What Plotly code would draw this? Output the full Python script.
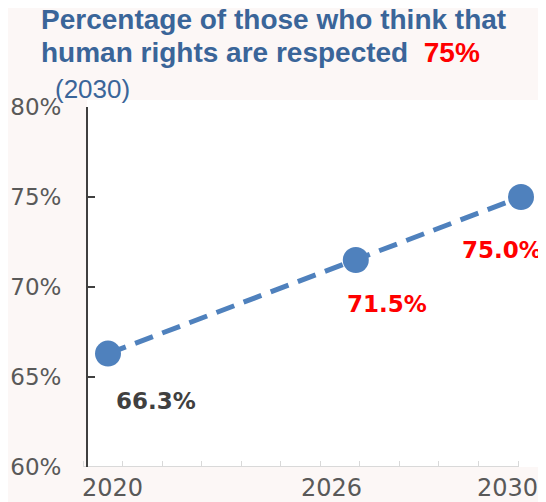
import plotly.graph_objects as go

# ---- data ----
years = [2020, 2026, 2030]
values = [66.3, 71.5, 75.0]
value_labels = ["66.3%", "71.5%", "75.0%"]
label_colors = ["#404040", "#FF0000", "#FF0000"]
x_tick_labels = ["2020", "2026", "2030"]
y_ticks = [60, 65, 70, 75, 80]
y_tick_labels = ["60%", "65%", "70%", "75%", "80%"]
title_line1 = "Percentage of those who think that"
title_line2 = "human rights are respected"
title_target = "75%"
title_year = "(2030)"

# ---- layout geometry (screen pixels; page body has an 8px margin) ----
OFF = 8
W, H = 546 - OFF, 502 - OFF
L, R, T, B = 83, 543, 107, 467  # plot area in screen pixels
PX_PER_YEAR = 41.3
X0_PX_YEAR = 108  # screen pixel of first year
x_min = years[0] - (X0_PX_YEAR - L) / PX_PER_YEAR
x_max = years[0] + (R - X0_PX_YEAR) / PX_PER_YEAR
x_axis_end = years[0] + (518 - X0_PX_YEAR) / PX_PER_YEAR


def fx(px):
    return (px - L) / (R - L)


def fy(py):
    return (B - py) / (B - T)


BLUE = "#4F81BD"
TITLE_BLUE = "#3A6599"
PAPER = "#FCF7F6"

fig = go.Figure()
fig.add_trace(go.Scatter(
    x=years, y=values, mode="lines+markers",
    line=dict(color=BLUE, width=5, dash="19px,10px"),
    marker=dict(size=26, color=BLUE),
    cliponaxis=False, hoverinfo="skip", showlegend=False,
))

shapes = [
    dict(type="rect", xref="paper", yref="paper", x0=fx(87), x1=1, y0=0, y1=fy(100),
         fillcolor="white", line=dict(width=0), layer="below"),
    dict(type="line", xref="x", yref="y", x0=x_min, x1=x_axis_end, y0=y_ticks[0], y1=y_ticks[0],
         line=dict(color="#D9D9D9", width=2), layer="below"),
]

annotations = []
xshifts = [48, 31, -19]
yshifts = [-47, -44, -53]
for xv, yv, t, c, dx, dy in zip(years, values, value_labels, label_colors, xshifts, yshifts):
    annotations.append(dict(x=xv, y=yv, xref="x", yref="y", text=f"<b>{t}</b>", showarrow=False,
                            xshift=dx, yshift=dy,
                            font=dict(family="DejaVu Sans", size=23, color=c)))

lab_shifts = [4, -24, -14]
for xv, t, dx in zip(years, x_tick_labels, lab_shifts):
    annotations.append(dict(x=xv, y=fy(488), xref="x", yref="paper", text=t, showarrow=False,
                            xshift=dx, yanchor="middle",
                            font=dict(family="DejaVu Sans", size=24, color="#595959")))

title_font = dict(family="Liberation Sans", size=28, color=TITLE_BLUE)
annotations.append(dict(x=fx(39), y=fy(19), xref="paper", yref="paper", xanchor="left", yanchor="middle",
                        text=f"<b>{title_line1}</b>", showarrow=False, font=title_font))
annotations.append(dict(x=fx(39), y=fy(52), xref="paper", yref="paper", xanchor="left", yanchor="middle",
                        text=f"<b>{title_line2}\u00a0\u00a0<span style='color:#FF0000'>{title_target}</span></b>",
                        showarrow=False, font=title_font))
annotations.append(dict(x=fx(53), y=fy(89), xref="paper", yref="paper", xanchor="left", yanchor="middle",
                        text=title_year, showarrow=False,
                        font=dict(family="Liberation Sans", size=26, color=TITLE_BLUE)))

fig.update_layout(
    width=W, height=H,
    margin=dict(l=L - OFF, r=W - (R - OFF), t=T - OFF, b=H - (B - OFF), pad=0),
    paper_bgcolor=PAPER, plot_bgcolor="rgba(0,0,0,0)",
    shapes=shapes, annotations=annotations,
    xaxis=dict(range=[x_min, x_max], showgrid=False, zeroline=False, showline=False,
               showticklabels=False, ticks="", tickmode="array", tickvals=[],
               minor=dict(ticks="inside", ticklen=6, tickcolor="#D9D9D9", tickwidth=1,
                          tick0=x_min, dtick=39.55 / PX_PER_YEAR, showgrid=False)),
    yaxis=dict(range=[y_ticks[0], y_ticks[-1]], showgrid=False, zeroline=False,
               showline=True, linecolor="#404040", linewidth=2,
               anchor="free", position=fx(87),
               tickmode="array", tickvals=y_ticks, ticktext=y_tick_labels,
               ticks="inside", ticklen=7, tickcolor="#404040", tickwidth=2,
               ticklabelstandoff=20,
               tickfont=dict(family="DejaVu Sans", size=23, color="#595959")),
)

fig.write_html("out.html")
